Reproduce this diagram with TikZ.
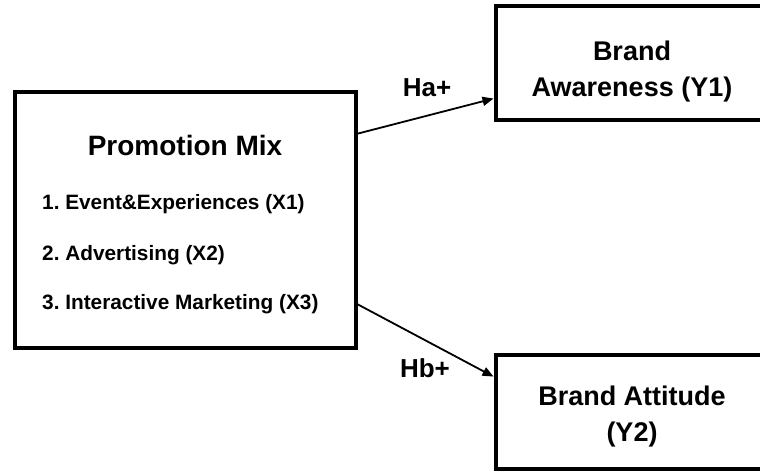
\documentclass[tikz,border=0pt]{standalone}
\usepackage{fontspec}
\setmainfont{Liberation Sans}
\usetikzlibrary{arrows.meta,calc}
\frenchspacing
\begin{document}
\begin{tikzpicture}[x=1pt,y=-1pt,
  box/.style={draw, line width=4pt, inner sep=0pt},
  title/.style={font=\bfseries\fontsize{27}{36}\selectfont, align=center, inner sep=0pt},
  item/.style={font=\bfseries\fontsize{20.8}{24}\selectfont, anchor=base west, inner sep=0pt},
  lbl/.style={font=\bfseries\fontsize{26}{30}\selectfont, inner sep=0pt},
  conn/.style={line width=1.8pt, -{Triangle[length=11pt,width=9pt]}}]
\useasboundingbox (0,0) rectangle (760,471);
\clip (0,0) rectangle (760,471);
% boxes
\node[box, minimum width=341pt, minimum height=256pt] (pm) at (185,220) {};
\node[box, minimum width=273pt, minimum height=114.5pt] (ba) at (632,63) {};
\node[box, minimum width=273pt, minimum height=114pt] (bt) at (632,412) {};
% texts
\node[title, font=\bfseries\fontsize{28}{36}\selectfont, anchor=base] (pmt) at (185,155) {Promotion Mix};
\node[item] (x1) at (42,209.5) {1. Event\&Experiences (X1)};
\node[item] (x2) at (42,260.5) {2. Advertising (X2)};
\node[item] (x3) at (42,309.5) {3. Interactive Marketing (X3)};
\node[title] (bat) at (632,72) {Brand\\Awareness (Y1)};
\node[title] (btt) at (632,417) {Brand Attitude\\(Y2)};
% connectors
\draw[conn] ($(pm.north east)!0.168!(pm.south east)$) -- ($(ba.north west)!0.80!(ba.south west)$);
\draw[conn] ($(pm.north east)!0.824!(pm.south east)$) -- ($(bt.north west)!0.20!(bt.south west)$);
\node[lbl] (ha) at (427,88) {Ha+};
\node[lbl] (hb) at (425,368) {Hb+};
\end{tikzpicture}
\end{document}
